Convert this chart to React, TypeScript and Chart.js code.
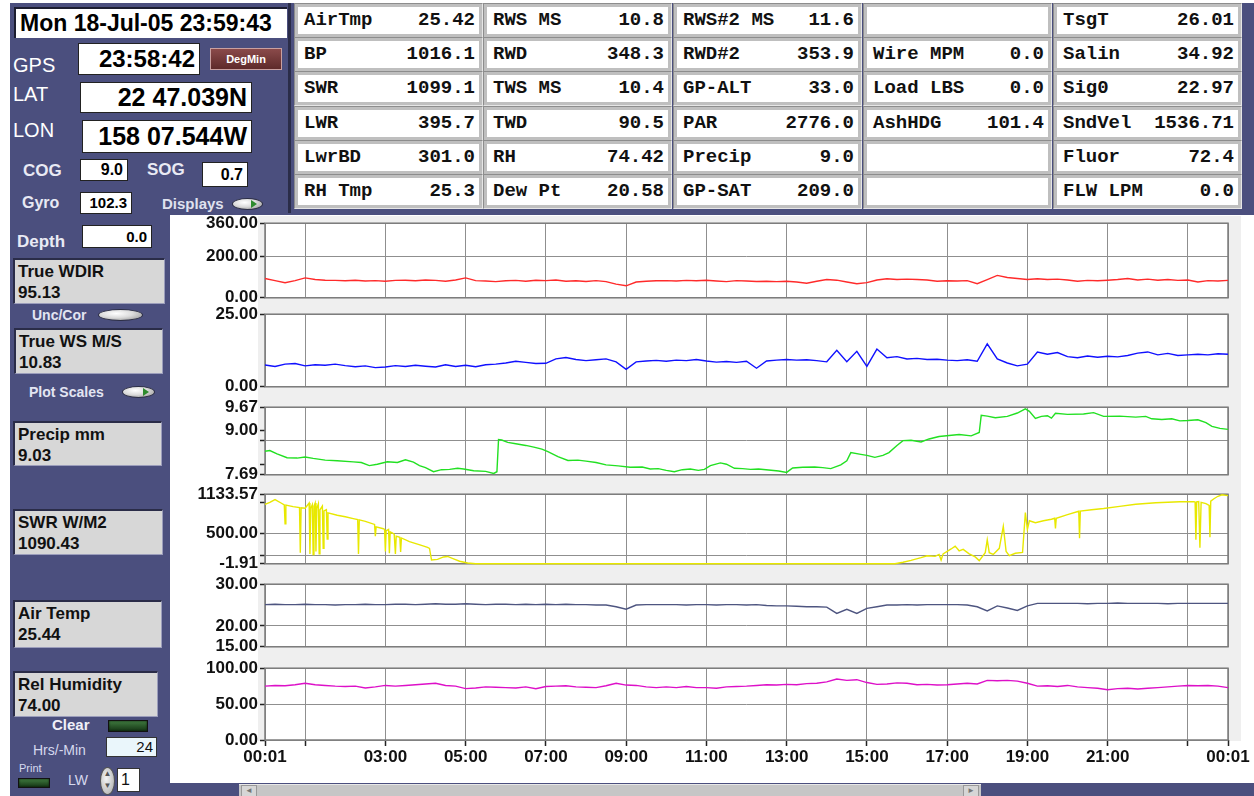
import React, { useEffect, useRef } from 'react';
import { Chart, registerables } from 'chart.js';

Chart.register(...registerables);

// ---------------- DATA ----------------
// Time axis in hours after 00:01 (0 .. 24)
const SAMPLE_HOURS: number[] = Array.from({ length: 97 }, (_, i) => i / 4);

const X_TICK_HOURS = [0, 1, 3, 5, 7, 9, 11, 13, 15, 17, 19, 21, 23, 24];
const X_TICK_LABELS = ['00:01', '', '03:00', '05:00', '07:00', '09:00', '11:00', '13:00', '15:00', '17:00', '19:00', '21:00', '', '00:01'];

// True wind direction (deg), one value per quarter hour
const WDIR_VALUES = [
  93, 83, 73, 83, 96, 88, 85, 84, 82, 85, 81, 83, 80, 84, 85, 82,
  86, 84, 80, 86, 96, 83, 81, 78, 82, 84, 80, 85, 83, 86, 80, 82,
  79, 83, 78, 66, 58, 76, 80, 82, 83, 81, 84, 82, 85, 81, 78, 83,
  81, 79, 80, 78, 80, 76, 70, 80, 88, 85, 76, 68, 73, 86, 92, 88,
  90, 88, 86, 80, 82, 81, 83, 68, 88, 108, 98, 93, 88, 92, 88, 90,
  86, 80, 84, 82, 85, 88, 93, 86, 90, 85, 88, 84, 86, 76, 83, 81, 84,
];

// True wind speed (m/s)
const WS_VALUES = [
  7.5, 7.0, 7.8, 8.0, 7.2, 7.6, 7.4, 7.8, 7.3, 6.9, 7.2, 6.6, 6.8, 7.3, 7.0, 7.4,
  7.1, 6.8, 7.6, 7.0, 7.4, 6.9, 7.6, 7.8, 8.2, 8.8, 8.4, 8.0, 8.1, 9.6, 10.1, 9.4,
  9.0, 9.3, 9.6, 8.6, 6.0, 8.6, 8.9, 9.1, 8.8, 9.2, 9.0, 9.4, 8.9, 8.5, 8.7, 8.4,
  8.8, 6.4, 8.9, 9.2, 9.4, 9.2, 9.3, 9.0, 8.6, 12.6, 8.6, 12.2, 7.0, 13.0, 10.0, 10.4,
  9.6, 9.8, 9.4, 9.5, 9.2, 9.0, 9.3, 8.8, 14.8, 9.6, 8.2, 7.2, 7.8, 12.0, 11.2, 11.8,
  10.4, 10.0, 10.6, 10.2, 10.5, 10.3, 10.8, 11.6, 12.0, 11.0, 11.5, 10.8, 11.0, 11.2, 11.0, 11.4, 11.2,
];

// Precipitation (mm)
const PRECIP_HOURS = [
  0, 0.12, 0.3, 0.55, 0.8, 1.0, 1.2, 1.5, 1.8, 2.2, 2.4, 2.6, 2.8, 3.05, 3.3, 3.5, 3.7, 3.85,
  4.0, 4.2, 4.4, 4.6, 4.8, 4.95, 5.2, 5.5, 5.7, 5.78, 5.82, 5.9, 6.05, 6.25, 6.5, 6.7, 6.9,
  7.05, 7.3, 7.55, 7.8, 8.0, 8.25, 8.5, 8.8, 9.1, 9.4, 9.6, 9.8, 10.0, 10.2, 10.4, 10.6, 10.8,
  10.95, 11.1, 11.35, 11.5, 11.7, 11.9, 12.1, 12.3, 12.55, 12.8, 13.0, 13.15, 13.4, 13.7, 13.9,
  14.1, 14.35, 14.5, 14.6, 14.85, 15.0, 15.2, 15.4, 15.55, 15.75, 15.9, 16.1, 16.35, 16.55,
  16.8, 17.05, 17.3, 17.6, 17.8, 17.85, 18.0, 18.2, 18.5, 18.75, 18.95, 19.05, 19.2, 19.35,
  19.5, 19.6, 19.7, 20.0, 20.4, 20.65, 20.9, 21.3, 21.7, 21.95, 22.1, 22.35, 22.6, 22.8, 23.0,
  23.25, 23.45, 23.6, 23.8, 24.0,
];
const PRECIP_VALUES = [
  8.38, 8.40, 8.30, 8.19, 8.18, 8.21, 8.17, 8.12, 8.10, 8.07, 8.05, 7.96, 8.00, 8.07, 8.05, 8.13, 8.06, 7.96,
  7.90, 7.78, 7.84, 7.85, 7.88, 7.86, 7.81, 7.79, 7.73, 7.78, 8.72, 8.71, 8.64, 8.60, 8.55, 8.50, 8.44,
  8.37, 8.22, 8.11, 8.12, 8.09, 8.05, 7.98, 7.95, 7.91, 7.92, 7.86, 7.87, 7.82, 7.78, 7.84, 7.86, 7.82,
  7.85, 7.96, 8.04, 8.00, 7.88, 7.87, 7.85, 7.86, 7.83, 7.80, 7.76, 7.89, 7.91, 7.92, 7.90,
  7.87, 7.98, 8.10, 8.34, 8.29, 8.26, 8.20, 8.26, 8.34, 8.55, 8.69, 8.70, 8.65, 8.74,
  8.81, 8.84, 8.87, 8.83, 8.93, 9.43, 9.41, 9.36, 9.40, 9.50, 9.62, 9.55, 9.34, 9.40,
  9.42, 9.35, 9.49, 9.46, 9.47, 9.51, 9.40, 9.41, 9.38, 9.40, 9.33, 9.31, 9.33, 9.27, 9.28,
  9.30, 9.22, 9.11, 9.05, 9.02,
];

// Short-wave radiation (W/m2)
const SWR_HOURS = [
  0, 0.12, 0.25, 0.4, 0.48, 0.5, 0.52, 0.7, 0.86, 0.88, 0.9, 1.0, 1.1, 1.12, 1.14, 1.18, 1.2, 1.22,
  1.25, 1.27, 1.29, 1.33, 1.35, 1.37, 1.43, 1.45, 1.47, 1.53, 1.55, 1.57, 1.8, 2.0, 2.2, 2.31, 2.33,
  2.35, 2.5, 2.73, 2.75, 2.77, 2.95, 2.98, 3.0, 3.02, 3.08, 3.1, 3.12, 3.18, 3.22, 3.25, 3.27, 3.36,
  3.38, 3.4, 3.6, 3.9, 4.05, 4.1, 4.15, 4.3, 4.45, 4.55, 4.7, 4.85, 5.05, 5.25,
  15.7, 15.9, 16.1, 16.35, 16.5, 16.7, 16.8, 16.85, 16.9, 17.1, 17.2, 17.3, 17.4, 17.55, 17.7, 17.8,
  17.95, 18.0, 18.05, 18.15, 18.3, 18.4, 18.47, 18.55, 18.7, 18.88, 18.95, 19.0, 19.05, 19.2, 19.4,
  19.6, 19.68, 19.7, 19.72, 20.0, 20.28, 20.3, 20.32, 20.6, 20.9, 21.3, 21.7, 22.2, 22.8, 23.15,
  23.18, 23.2, 23.22, 23.27, 23.3, 23.33, 23.45, 23.53, 23.55, 23.57, 23.65, 23.75, 23.85, 24.0,
];
const SWR_VALUES = [
  966, 1000, 1045, 990, 960, 650, 955, 930, 915, 180, 912, 905, 990, 160, 900, 960, 150, 940,
  990, 200, 900, 980, 160, 880, 940, 250, 860, 880, 400, 830, 790, 765, 735, 720, 160,
  715, 690, 640, 450, 600, 570, 560, 200, 540, 560, 170, 520, 500, 480, 160, 450, 430,
  190, 420, 360, 300, 265, 250, 60, 70, 110, 118, 80, 40, 12, -1.91,
  -1.91, 24, 55, 100, 130, 120, 150, 60, 160, 240, 286, 210, 234, 160, 110, 50,
  180, 390, 180, 150, 250, 610, 200, 130, 170, 185, 835, 560, 700, 668, 700,
  725, 741, 574, 741, 800, 855, 417, 858, 880, 900, 935, 970, 995, 1010, 1012,
  1005, 390, 1010, 1015, 260, 1000, 980, 950, 430, 1020, 1060, 1100, 1125, 1110,
];

// Air temperature (deg C)
const AIRT_VALUES = [
  25.1, 25.2, 25.1, 25.1, 25.2, 25.1, 25.1, 25.0, 25.1, 25.1, 25.2, 25.1, 25.1, 25.2, 25.2, 25.1,
  25.2, 25.3, 25.2, 25.2, 25.3, 25.2, 25.1, 25.2, 25.2, 25.1, 25.2, 25.1, 25.2, 25.1, 25.2, 25.1,
  25.1, 25.0, 25.0, 24.6, 24.0, 25.0, 25.1, 25.1, 25.1, 25.1, 25.0, 25.1, 25.1, 25.0, 25.1, 25.1,
  25.0, 25.1, 24.9, 24.8, 24.8, 24.7, 24.6, 24.6, 24.5, 23.0, 24.0, 23.0, 24.2, 24.6, 25.0, 25.0,
  25.1, 25.0, 25.1, 25.1, 25.1, 25.1, 25.0, 24.6, 23.6, 24.8, 24.3, 23.7, 24.8, 25.4, 25.4, 25.4,
  25.4, 25.4, 25.3, 25.4, 25.4, 25.5, 25.4, 25.4, 25.4, 25.4, 25.3, 25.4, 25.4, 25.4, 25.4, 25.4, 25.4,
];

// Relative humidity (%)
const RH_VALUES = [
  75, 76, 75.5, 77, 79, 77, 76, 75, 74.5, 75, 72.5, 74, 76, 75, 76, 77,
  78, 79, 76, 75, 71.5, 72.5, 74, 73.5, 73, 72.5, 74, 71.5, 74.5, 75, 75.5, 74,
  73.5, 73, 75.5, 79, 76.5, 76, 74, 73, 74, 73, 74.5, 73, 73, 72, 74, 74.5,
  75, 76, 77, 76.5, 77.5, 77, 78.5, 79, 81, 85, 83, 84, 80, 77.5, 78, 79.5,
  79, 77, 77.5, 76.5, 77, 78, 79, 78, 83, 82.5, 83, 82, 79, 75, 75.5, 74.5,
  76, 74, 73, 72, 70, 71.5, 72, 71, 72, 73, 74, 75, 76, 75.5, 76, 75, 73,
];

// Y axis tick values / labels / gridlines
const WDIR_TICKS = [0, 200, 360];
const WDIR_LABELS = ['0.00', '200.00', '360.00'];
const WDIR_GRID = [0, 200, 360];

const WS_TICKS = [0, 25];
const WS_LABELS = ['0.00', '25.00'];
const WS_GRID = [0, 25];

const PRECIP_TICKS = [7.69, 8.0, 8.7, 9.0, 9.67];
const PRECIP_LABELS = ['7.69', '', '', '9.00', '9.67'];
const PRECIP_GRID = [7.69, 8.7, 9.67];

const SWR_TICKS = [-1.91, 129, 500, 1000, 1133.57];
const SWR_LABELS = ['-1.91', '', '500.00', '', '1133.57'];
const SWR_GRID = [-1.91, 129, 500, 1133.57];

const AIRT_TICKS = [15, 20, 30];
const AIRT_LABELS = ['15.00', '20.00', '30.00'];
const AIRT_GRID = [15, 20, 30];

const RH_TICKS = [0, 50, 100];
const RH_LABELS = ['0.00', '50.00', '100.00'];
const RH_GRID = [0, 50, 100];

// Read-out table (columns of rows)
const TABLE_COLUMNS: [string, string][][] = [
  [['AirTmp', '25.42'], ['BP', '1016.1'], ['SWR', '1099.1'], ['LWR', '395.7'], ['LwrBD', '301.0'], ['RH Tmp', '25.3']],
  [['RWS MS', '10.8'], ['RWD', '348.3'], ['TWS MS', '10.4'], ['TWD', '90.5'], ['RH', '74.42'], ['Dew Pt', '20.58']],
  [['RWS#2 MS', '11.6'], ['RWD#2', '353.9'], ['GP-ALT', '33.0'], ['PAR', '2776.0'], ['Precip', '9.0'], ['GP-SAT', '209.0']],
  [['', ''], ['Wire MPM', '0.0'], ['Load LBS', '0.0'], ['AshHDG', '101.4'], ['', ''], ['', '']],
  [['TsgT', '26.01'], ['Salin', '34.92'], ['Sig0', '22.97'], ['SndVel', '1536.71'], ['Fluor', '72.4'], ['FLW LPM', '0.0']],
];

const SIDE_READOUTS: [string, string][] = [
  ['True WDIR', '95.13'],
  ['True WS M/S', '10.83'],
  ['Precip mm', '9.03'],
  ['SWR W/M2', '1090.43'],
  ['Air Temp', '25.44'],
  ['Rel Humidity', '74.00'],
];

// ---------------- STYLE HELPERS ----------------
const SANS = '"Liberation Sans", Arial, sans-serif';
const MONO = '"Liberation Mono", "Courier New", monospace';
const BLUE = '#4b4f7e';
const GRID = '#8f8f8f';

const abs = (l: number, t: number, w: number, h: number, extra: any = {}): any => ({
  position: 'absolute', left: l, top: t, width: w, height: h, boxSizing: 'border-box', ...extra,
});

const panelFrame = {
  id: 'panelFrame',
  beforeDraw(chart: any) {
    const { ctx, chartArea } = chart;
    ctx.save();
    ctx.fillStyle = '#ffffff';
    ctx.fillRect(chartArea.left, chartArea.top, chartArea.right - chartArea.left, chartArea.bottom - chartArea.top);
    ctx.restore();
  },
  beforeDatasetsDraw(chart: any) {
    const { ctx, chartArea } = chart;
    ctx.save();
    ctx.strokeStyle = '#7c7c7c';
    ctx.lineWidth = 1.5;
    ctx.strokeRect(chartArea.left, chartArea.top, chartArea.right - chartArea.left, chartArea.bottom - chartArea.top);
    ctx.restore();
  },
};

type PanelProps = {
  plotTop: number; plotHeight: number; bottomAxis?: boolean;
  xs: number[]; ys: number[]; color: string;
  yMin: number; yMax: number; ticks: number[]; labels: string[]; grid: number[];
};

const CANVAS_LEFT = 170;
const CANVAS_W = 1084;
const AXIS_W = 95;
const PAD_RIGHT = 26;
const PAD_TOP = 12;

function Panel(p: PanelProps) {
  const ref = useRef<HTMLCanvasElement>(null);
  const padBottom = p.bottomAxis ? 0 : 10;
  const xAxisH = p.bottomAxis ? 30 : 0;
  const canvasH = PAD_TOP + p.plotHeight + padBottom + xAxisH;

  useEffect(() => {
    const font = { family: SANS, size: 17, weight: 'bold' as const };
    const chart = new Chart(ref.current as HTMLCanvasElement, {
      type: 'line',
      data: {
        datasets: [{
          data: p.xs.map((x, i) => ({ x, y: p.ys[i] })),
          borderColor: p.color,
          borderWidth: 1.4,
          pointRadius: 0,
          tension: 0,
          clip: 2,
        }],
      },
      options: {
        animation: false,
        responsive: false,
        events: [],
        layout: { padding: { left: 0, right: PAD_RIGHT, top: PAD_TOP, bottom: padBottom } },
        plugins: { legend: { display: false }, tooltip: { enabled: false } },
        scales: {
          x: {
            type: 'linear', min: 0, max: 24,
            afterBuildTicks: (s: any) => { s.ticks = X_TICK_HOURS.map((v) => ({ value: v })); },
            afterFit: (s: any) => { s.height = xAxisH; },
            ticks: {
              display: !!p.bottomAxis, autoSkip: false, maxRotation: 0, padding: 1,
              color: '#111', font,
              callback: (_v: any, i: number) => X_TICK_LABELS[i],
            },
            grid: {
              color: GRID, lineWidth: 1, drawTicks: !!p.bottomAxis, tickLength: 6,
              tickColor: '#222', tickWidth: 1.5,
            },
            border: { display: false },
          },
          y: {
            type: 'linear', min: p.yMin, max: p.yMax,
            afterBuildTicks: (s: any) => { s.ticks = p.ticks.map((v) => ({ value: v })); },
            afterFit: (s: any) => { s.width = AXIS_W; },
            ticks: {
              autoSkip: false, padding: 2, color: '#111', font,
              callback: (_v: any, i: number) => p.labels[i],
            },
            grid: {
              color: (c: any) => (c.tick && p.grid.includes(c.tick.value) ? GRID : 'rgba(0,0,0,0)'),
              tickColor: (c: any) => (c.tick ? '#222' : 'rgba(0,0,0,0)'),
              tickLength: 5, tickWidth: 1.5,
            },
            border: { display: false },
          },
        },
      },
      plugins: [panelFrame],
    } as any);
    return () => chart.destroy();
  }, []);

  return (
    <canvas
      ref={ref}
      width={CANVAS_W}
      height={canvasH}
      style={{ position: 'absolute', left: CANVAS_LEFT, top: p.plotTop - PAD_TOP, width: CANVAS_W, height: canvasH }}
    />
  );
}

function Toggle({ l, t, w, h, arrow }: { l: number; t: number; w: number; h: number; arrow?: boolean }) {
  return (
    <div style={abs(l, t, w, h, {
      borderRadius: '50%',
      background: 'radial-gradient(ellipse at 40% 35%, #ffffff 0%, #dcdcdc 45%, #8a8a8a 100%)',
      border: '1px solid #2d2f45',
    })}>
      {arrow && (
        <div style={{
          position: 'absolute', right: 5, top: (h - 10) / 2, width: 0, height: 0,
          borderTop: '4px solid transparent', borderBottom: '4px solid transparent', borderLeft: '6px solid #2e8b2e',
        }} />
      )}
    </div>
  );
}

function Led({ l, t, w, h }: { l: number; t: number; w: number; h: number }) {
  return (
    <div style={abs(l, t, w, h, {
      background: 'linear-gradient(#3f7a3f, #153515)', border: '1px solid #111', boxShadow: 'inset 0 0 2px #0a1a0a',
    })} />
  );
}

function WhiteBox({ l, t, w, h, text, size }: { l: number; t: number; w: number; h: number; text: string; size: number }) {
  return (
    <div style={abs(l, t, w, h, {
      background: '#fff', border: '1px solid #222', font: `bold ${size}px ${SANS}`, color: '#000',
      textAlign: 'right', paddingRight: 4, lineHeight: `${h - 2}px`, whiteSpace: 'nowrap',
    })}>{text}</div>
  );
}

function Label({ l, t, text, size, bold, color, h }: { l: number; t: number; text: string; size: number; bold?: boolean; color?: string; h?: number }) {
  const hh = h || size + 4;
  return (
    <div style={abs(l, t, 200, hh, {
      font: `${bold ? 'bold ' : ''}${size}px ${SANS}`, color: color || '#ffffff', lineHeight: `${hh}px`, whiteSpace: 'nowrap',
    })}>{text}</div>
  );
}

const SIDE_BOXES = [
  { l: 13, t: 258, w: 152, h: 46 },
  { l: 14, t: 328, w: 149, h: 46 },
  { l: 13, t: 421, w: 149, h: 45 },
  { l: 13, t: 509, w: 150, h: 46 },
  { l: 13, t: 600, w: 149, h: 48 },
  { l: 13, t: 671, w: 145, h: 46 },
];

const COL_LEFT = [298, 487, 677, 867, 1057];
const ROW_TOP = [7, 41, 75, 110, 144, 178];

export default function App() {
  return (
    <div style={abs(0, 0, 1254, 796, { overflow: 'hidden', background: '#fff', fontFamily: SANS })}>
      {/* dashboard background */}
      <div style={abs(10, 3, 1244, 793, { background: BLUE })} />
      <div style={abs(288, 3, 3, 210, { background: '#2a2c48' })} />
      {/* chart area white */}
      <div style={abs(170, 215, 1084, 568, { background: '#fff' })} />
      <div style={abs(258, 216, 983, 525, { background: '#efefef' })} />

      {/* top-left clock & navigation */}
      <div style={abs(14, 7, 273, 31, {
        background: '#fff', borderTop: '2px solid #1c1d30', borderLeft: '2px solid #1c1d30',
        font: `bold 23px ${SANS}`, lineHeight: '28px', paddingLeft: 4, whiteSpace: 'nowrap', color: '#000',
      })}>Mon 18-Jul-05 23:59:43</div>

      <Label l={13} t={53} text="GPS" size={20} h={24} />
      <WhiteBox l={78} t={43} w={122} h={32} text="23:58:42" size={24} />
      <div style={abs(210, 48, 72, 22, {
        background: 'linear-gradient(#8a4a4a, #5e2a2a)', border: '1px solid #c9a0a0',
        color: '#fff', font: `bold 11px ${SANS}`, textAlign: 'center', lineHeight: '20px',
      })}>DegMin</div>

      <Label l={13} t={82} text="LAT" size={20} h={24} />
      <WhiteBox l={80} t={82} w={172} h={31} text="22 47.039N" size={25} />
      <Label l={13} t={118} text="LON" size={20} h={24} />
      <WhiteBox l={82} t={120} w={170} h={33} text="158 07.544W" size={25} />

      <Label l={23} t={160} text="COG" size={17} bold h={22} color="#e9eaf4" />
      <WhiteBox l={80} t={159} w={48} h={22} text="9.0" size={16} />
      <Label l={147} t={159} text="SOG" size={17} bold h={22} color="#e9eaf4" />
      <WhiteBox l={202} t={162} w={46} h={25} text="0.7" size={16} />

      <Label l={22} t={192} text="Gyro" size={16} bold h={22} color="#e9eaf4" />
      <WhiteBox l={80} t={192} w={52} h={22} text="102.3" size={15} />
      <Label l={162} t={193} text="Displays" size={15} bold h={22} color="#dfe1ee" />
      <Toggle l={232} t={198} w={31} h={12} arrow />

      <Label l={17} t={231} text="Depth" size={17} bold h={22} color="#e9eaf4" />
      <WhiteBox l={82} t={225} w={70} h={23} text="0.0" size={15} />

      {/* side readout boxes */}
      {SIDE_READOUTS.map(([name, val], i) => {
        const b = SIDE_BOXES[i];
        return (
          <div key={name} style={abs(b.l, b.t, b.w, b.h, {
            background: '#d7d7d7', borderTop: '2px solid #2a2c48', borderLeft: '2px solid #2a2c48',
            borderBottom: '1px solid #9b9dbb', borderRight: '1px solid #9b9dbb',
            font: `bold 17px ${SANS}`, color: '#111', paddingLeft: 3, paddingTop: 1, lineHeight: '21px', whiteSpace: 'nowrap',
          })}>
            <div>{name}</div>
            <div>{val}</div>
          </div>
        );
      })}

      <Label l={32} t={305} text="Unc/Cor" size={14} bold h={20} color="#e3e5f2" />
      <Toggle l={98} t={309} w={45} h={12} />
      <Label l={29} t={382} text="Plot Scales" size={14} bold h={20} color="#e3e5f2" />
      <Toggle l={122} t={386} w={33} h={12} arrow />

      {/* bottom-left controls */}
      <Label l={52} t={715} text="Clear" size={15} bold h={20} color="#f0f0f8" />
      <Led l={108} t={720} w={40} h={12} />
      <Label l={33} t={740} text="Hrs/-Min" size={14} h={20} color="#d6d9ee" />
      <div style={abs(106, 737, 51, 20, {
        background: '#eaf6fb', border: '1px solid #333', textAlign: 'right', paddingRight: 3,
        font: `15px ${SANS}`, lineHeight: '18px', color: '#111',
      })}>24</div>
      <Label l={19} t={761} text="Print" size={11} h={14} color="#d6d9ee" />
      <Led l={18} t={778} w={32} h={10} />
      <Label l={68} t={770} text="LW" size={14} h={20} color="#d6d9ee" />
      <div style={abs(100, 767, 15, 28, {
        borderRadius: '50%', background: 'radial-gradient(ellipse at 40% 40%, #f4f4f4, #a9a9a9)', border: '1px solid #555',
        font: `8px ${SANS}`, color: '#555', textAlign: 'center', lineHeight: '12px',
      })}>▲<br />▼</div>
      <div style={abs(117, 768, 23, 24, {
        background: '#fff', border: '1px solid #333', font: `16px ${SANS}`, lineHeight: '22px', paddingLeft: 3, color: '#111',
      })}>1</div>

      {/* read-out table */}
      {TABLE_COLUMNS.map((col, ci) => col.map(([name, val], ri) => (
        <div key={`${ci}-${ri}`} style={abs(COL_LEFT[ci] - 4, ROW_TOP[ri] - 4, 189, 35, {
          background: '#bfbfbf', borderTop: '1px solid #8d8d8d', borderLeft: '1px solid #8d8d8d',
          borderBottom: '1px solid #e6e6e6', borderRight: '1px solid #e6e6e6',
        })}>
          <div style={abs(3, 3, 181, 27, {
            background: '#fff', font: `bold 19px ${MONO}`, color: '#111', lineHeight: '27px', whiteSpace: 'pre',
          })}>
            <span style={{ position: 'absolute', left: 6 }}>{name}</span>
            <span style={{ position: 'absolute', right: 4 }}>{val}</span>
          </div>
        </div>
      )))}

      {/* stacked strip charts */}
      <Panel plotTop={223} plotHeight={77} xs={SAMPLE_HOURS} ys={WDIR_VALUES} color="#ff2a2a"
        yMin={0} yMax={360} ticks={WDIR_TICKS} labels={WDIR_LABELS} grid={WDIR_GRID} />
      <Panel plotTop={314} plotHeight={75} xs={SAMPLE_HOURS} ys={WS_VALUES} color="#1010ff"
        yMin={0} yMax={25} ticks={WS_TICKS} labels={WS_LABELS} grid={WS_GRID} />
      <Panel plotTop={407} plotHeight={70} xs={PRECIP_HOURS} ys={PRECIP_VALUES} color="#22e022"
        yMin={7.69} yMax={9.67} ticks={PRECIP_TICKS} labels={PRECIP_LABELS} grid={PRECIP_GRID} />
      <Panel plotTop={494} plotHeight={72} xs={SWR_HOURS} ys={SWR_VALUES} color="#e8e800"
        yMin={-1.91} yMax={1133.57} ticks={SWR_TICKS} labels={SWR_LABELS} grid={SWR_GRID} />
      <Panel plotTop={584} plotHeight={65} xs={SAMPLE_HOURS} ys={AIRT_VALUES} color="#4e5580"
        yMin={15} yMax={30} ticks={AIRT_TICKS} labels={AIRT_LABELS} grid={AIRT_GRID} />
      <Panel plotTop={668} plotHeight={72} bottomAxis xs={SAMPLE_HOURS} ys={RH_VALUES} color="#dd10c8"
        yMin={0} yMax={100} ticks={RH_TICKS} labels={RH_LABELS} grid={RH_GRID} />

      {/* horizontal scrollbar */}
      <div style={abs(170, 783, 1084, 13, { background: BLUE })} />
      <div style={abs(239, 784, 742, 12, { background: '#c6c6c6', borderTop: '1px solid #e8e8e8' })}>
        <div style={abs(2, 0, 16, 12, { background: '#d6d6d6', border: '1px solid #999', font: `8px ${SANS}`, color: '#777', textAlign: 'center', lineHeight: '10px' })}>◄</div>
        <div style={abs(724, 0, 16, 12, { background: '#d6d6d6', border: '1px solid #999', font: `8px ${SANS}`, color: '#777', textAlign: 'center', lineHeight: '10px' })}>►</div>
      </div>
    </div>
  );
}
